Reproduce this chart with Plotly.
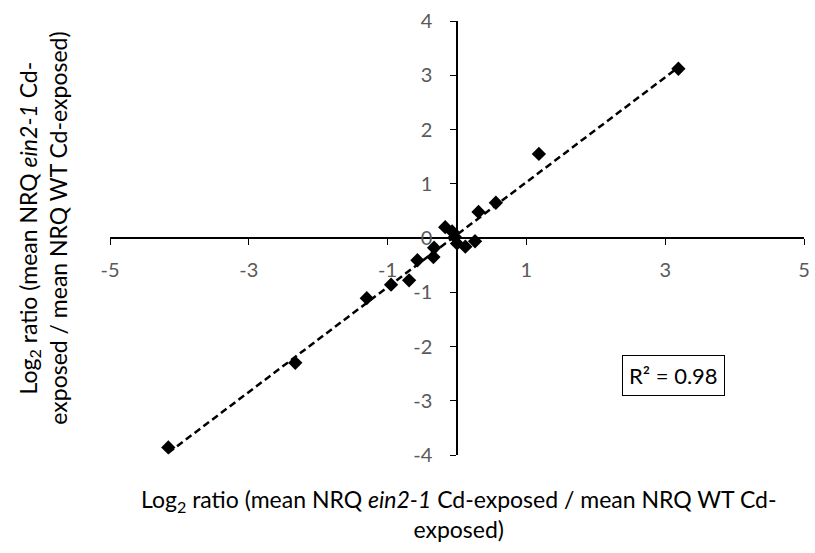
import numpy as np
import plotly.graph_objects as go

# Data (log2 ratios)
x_vals = [3.19, 1.18, 0.56, 0.31, -0.17, -0.07, -0.03, 0.00, 0.12, 0.26,
          -0.33, -0.34, -0.57, -0.69, -0.95, -1.30, -2.33, -4.16]
y_vals = [3.12, 1.55, 0.65, 0.48, 0.20, 0.12, 0.02, -0.10, -0.16, -0.06,
          -0.18, -0.35, -0.41, -0.78, -0.86, -1.11, -2.30, -3.86]
x_ticks = [-5, -3, -1, 1, 3, 5]
x_ticktext = ["-5", "-3", "-1", "1", "3", "5"]
y_ticks = [-4, -3, -2, -1, 0, 1, 2, 3, 4]
y_ticktext = ["-4", "-3", "-2", "-1", "0", "1", "2", "3", "4"]
r2_label = "R² = 0.98"

xa = np.array(x_vals)
ya = np.array(y_vals)
slope, intercept = np.polyfit(xa, ya, 1)
trend_x = np.array([xa.min(), xa.max()])
trend_y = slope * trend_x + intercept

FONT = "Lato"
fig = go.Figure()
fig.add_trace(go.Scatter(
    x=trend_x, y=trend_y, mode="lines",
    line=dict(color="black", width=2.5, dash="7px,4px"),
    hoverinfo="skip", showlegend=False))
fig.add_trace(go.Scatter(
    x=x_vals, y=y_vals, mode="markers",
    marker=dict(symbol="diamond", size=11, color="black"),
    showlegend=False))

axis_common = dict(
    showgrid=False, zeroline=False, showline=True, linecolor="black", linewidth=1.5,
    ticks="outside", ticklen=6, tickwidth=1.3, tickcolor="black",
    tickfont=dict(family=FONT, size=20, color="#595959"),
    anchor="free", position=0.5, ticklabeloverflow="allow",
)
fig.update_xaxes(range=[-5, 5], tickvals=x_ticks, ticktext=x_ticktext,
                 ticklabelstandoff=8, **axis_common)
fig.update_yaxes(range=[-4, 4], tickvals=y_ticks, ticktext=y_ticktext,
                 ticklabelstandoff=14, **axis_common)

fig.add_annotation(
    xref="paper", yref="paper", x=0.503, y=-0.137, xanchor="center", yanchor="middle",
    text="Log<sub>2</sub> ratio (mean NRQ <i>ein2-1</i> Cd-exposed / mean NRQ WT Cd-<br>exposed)",
    showarrow=False, font=dict(family=FONT, size=23, color="black"), align="center")
fig.add_annotation(
    xref="paper", yref="paper", x=-0.097, y=0.523, xanchor="center", yanchor="middle",
    text="Log<sub>2</sub> ratio (mean NRQ <i>ein2-1</i> Cd-<br>exposed / mean NRQ WT Cd-exposed)",
    textangle=-90, showarrow=False, font=dict(family=FONT, size=23, color="black"), align="center")
fig.add_annotation(
    x=3.12, y=-2.53, xref="x", yref="y", text=r2_label, showarrow=False,
    font=dict(family=FONT, size=22, color="black"),
    bordercolor="black", borderwidth=1, borderpad=6, bgcolor="white")

fig.update_layout(
    width=815, height=553, margin=dict(l=110, r=5, t=21, b=98),
    plot_bgcolor="white", paper_bgcolor="white",
)
fig.write_html("out.html")
